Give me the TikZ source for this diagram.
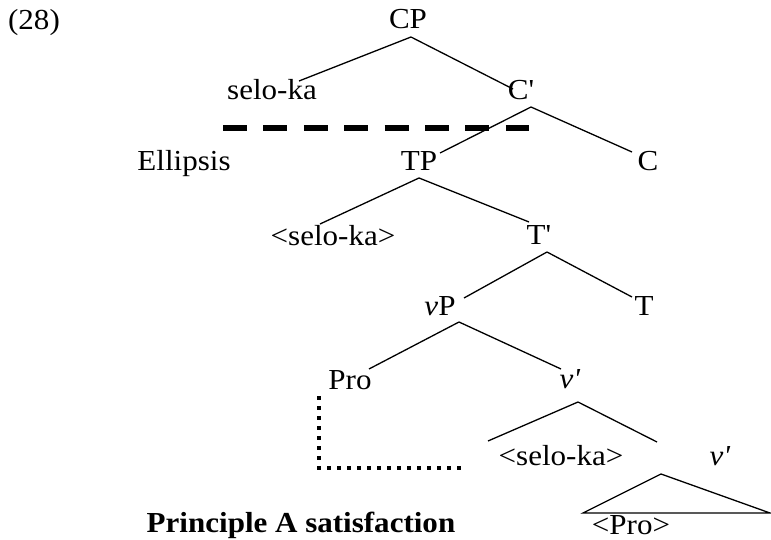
\documentclass[tikz,border=0pt]{standalone}
\usepackage{fontspec}
\setmainfont{Liberation Serif}[Ligatures=TeXOff,FakeStretch=1.07]

\begin{document}
\begin{tikzpicture}[x=1pt,y=-1pt,
        every node/.style={inner sep=0pt,anchor=base,font=\fontsize{29}{34}\selectfont},
        br/.style={line width=1.3pt}]
    \useasboundingbox (0,0) rectangle (771,540);

    \node (ex)    at (34,30)   {(28)};
    \node (cp)    at (408,29)  {CP};
    \node (sel)   at (272,100) {selo-ka};
    \node (cbar)  at (521,100) {C'};
    \node (ell)   at (184,171) {Ellipsis};
    \node (tp)    at (419,171) {TP};
    \node (c)     at (648,171) {C};
    \node (sel2)  at (333,245) {<selo-ka>};
    \node (tbar)  at (539,244) {T'};
    \node (vp)    at (440,315) {\textit{v}P};
    \node (t)     at (644,315) {T};
    \node (pro)   at (350,389) {Pro};
    \node (vbar)  at (570,388) {\textit{v'}};
    \node (sel3)  at (561,465) {<selo-ka>};
    \node (vbar2) at (720,465) {\textit{v'}};
    \node (pro2)  at (631,534) {<Pro>};
    \node (prin)  at (301,532) {\textbf{Principle A satisfaction}};

    \draw[br] ([shift={(3,8)}]cp.base) -- ([shift={(27,-19)}]sel.base);
    \draw[br] ([shift={(3,8)}]cp.base) -- ([shift={(-8,-11)}]cbar.base);
    \draw[br] ([shift={(10,7)}]cbar.base) -- ([shift={(21,-18)}]tp.base);
    \draw[br] ([shift={(10,7)}]cbar.base) -- ([shift={(-16,-19)}]c.base);
    \draw[br] ([shift={(0,7)}]tp.base) -- ([shift={(-13,-21)}]sel2.base);
    \draw[br] ([shift={(0,7)}]tp.base) -- ([shift={(-10,-22)}]tbar.base);
    \draw[br] ([shift={(8,8)}]tbar.base) -- ([shift={(24,-17)}]vp.base);
    \draw[br] ([shift={(8,8)}]tbar.base) -- ([shift={(-12,-18)}]t.base);
    \draw[br] ([shift={(19,7)}]vp.base) -- ([shift={(19,-20)}]pro.base);
    \draw[br] ([shift={(19,7)}]vp.base) -- ([shift={(-9,-19)}]vbar.base);
    \draw[br] ([shift={(8,14)}]vbar.base) -- ([shift={(-73,-24)}]sel3.base);
    \draw[br] ([shift={(8,14)}]vbar.base) -- ([shift={(-63,-23)}]vbar2.base);
    \draw[br] ([shift={(-59,9)}]vbar2.base) -- ([shift={(-48,-21)}]pro2.base)
        -- ([shift={(139,-21)}]pro2.base) -- cycle;

    % ellipsis site and binding path
    \draw[line width=6pt,dash pattern=on 24pt off 16.4pt]
        ([shift={(-49,28)}]sel.base) -- ([shift={(8,28)}]cbar.base);
    \draw[line width=4pt,dash pattern=on 4pt off 6pt]
        ([shift={(-31,7)}]pro.base) |- ([shift={(-98,3)}]sel3.base);
\end{tikzpicture}
\end{document}
